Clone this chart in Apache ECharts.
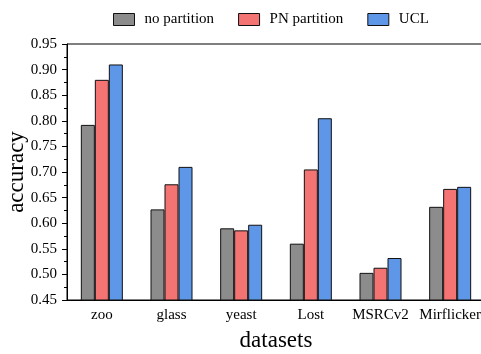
<!DOCTYPE html>
<html>
<head>
<meta charset="utf-8">
<script src="https://cdn.jsdelivr.net/npm/echarts@6/dist/echarts.min.js"></script>
<style>
  html, body { margin: 0; padding: 0; background: #fff; }
  #chart { width: 481px; height: 354px; }
</style>
</head>
<body>
<div id="chart"></div>
<script>
const categories = ['zoo', 'glass', 'yeast', 'Lost', 'MSRCv2', 'Mirflicker']
const noPartition = [0.792, 0.627, 0.590, 0.560, 0.503, 0.632]
const pnPartition = [0.880, 0.676, 0.586, 0.705, 0.513, 0.667]
const ucl = [0.910, 0.710, 0.597, 0.805, 0.532, 0.671]

const font = "'Liberation Serif', 'Times New Roman', serif"

function bar (name, data, color) {
  return {
    name: name,
    type: 'bar',
    barWidth: 14,
    barGap: '0%',
    itemStyle: { color: color, borderColor: '#111', borderWidth: 1 },
    data: data
  }
}

const chart = echarts.init(document.getElementById('chart'))
chart.setOption({
  animation: false,
  legend: {
    top: 7,
    left: 108,
    icon: 'rect',
    itemWidth: 21,
    itemHeight: 12,
    itemGap: 24,
    textStyle: { fontFamily: font, fontSize: 15, color: '#000', padding: [0, 0, 0, 5] },
    itemStyle: { borderColor: '#111', borderWidth: 1 },
    data: ['no partition', 'PN partition', 'UCL']
  },
  grid: {
    left: 67,
    top: 44,
    width: 418,
    height: 256,
    outerBoundsMode: 'none',
    containLabel: false,
    show: true,
    borderColor: '#000',
    borderWidth: 1
  },
  xAxis: {
    type: 'category',
    data: categories,
    name: 'datasets',
    nameLocation: 'middle',
    nameGap: 29,
    nameTextStyle: { fontFamily: font, fontSize: 23, color: '#000' },
    axisLine: { lineStyle: { color: '#000', width: 1 } },
    axisTick: { alignWithLabel: true, length: 5, lineStyle: { color: '#000' } },
    axisLabel: { fontFamily: font, fontSize: 15, color: '#000', margin: 8, interval: 0 }
  },
  yAxis: {
    type: 'value',
    min: 0.45,
    max: 0.95,
    interval: 0.05,
    name: 'accuracy',
    nameLocation: 'middle',
    nameGap: 39,
    nameMoveOverlap: false,
    nameTextStyle: { fontFamily: font, fontSize: 23, color: '#000' },
    axisLine: { show: true, lineStyle: { color: '#000', width: 1 } },
    axisTick: { show: true, length: 5, lineStyle: { color: '#000' } },
    minorTick: { show: true, splitNumber: 2, length: 3, lineStyle: { color: '#000' } },
    splitLine: { show: false },
    axisLabel: {
      fontFamily: font,
      fontSize: 15,
      color: '#000',
      margin: 10,
      formatter: function (v) { return v.toFixed(2) }
    }
  },
  series: [
    bar('no partition', noPartition, '#8c8c8c'),
    bar('PN partition', pnPartition, '#f47474'),
    bar('UCL', ucl, '#5f97e8')
  ]
})
</script>
</body>
</html>
